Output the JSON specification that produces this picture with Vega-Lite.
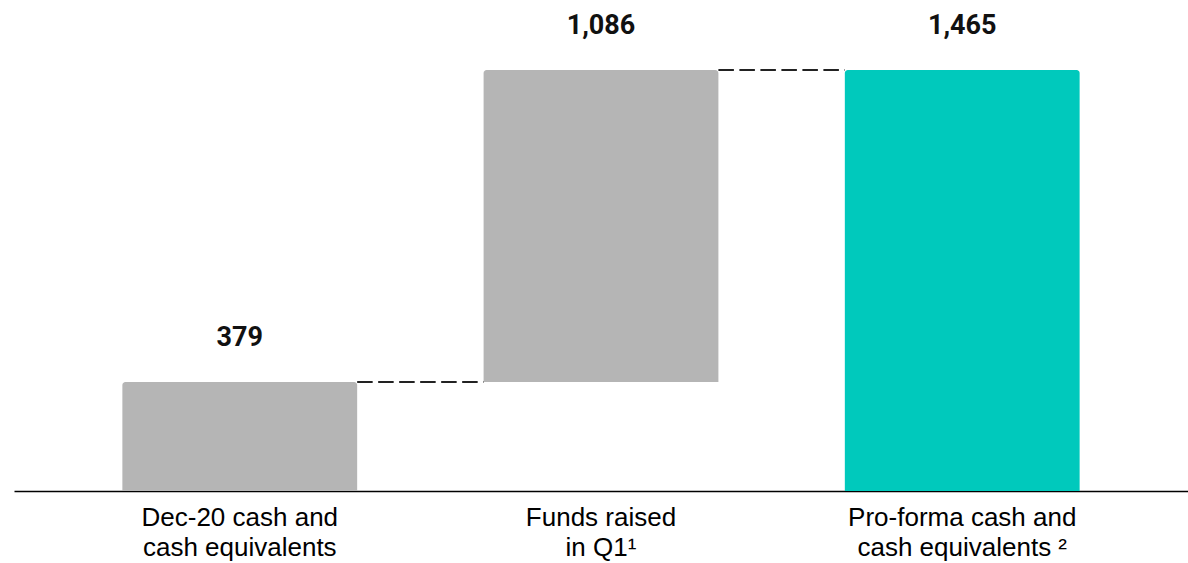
{
  "$schema": "https://vega.github.io/schema/vega-lite/v6.json",
  "width": 1174,
  "height": 491,
  "autosize": "none",
  "padding": {"left": 14, "top": 0, "right": 0, "bottom": 72},
  "background": "white",
  "config": {"view": {"stroke": null}},
  "datasets": {
    "bars": [
      {"cat": "Dec-20 cash and|cash equivalents", "start": 0, "end": 379, "value": 379, "kind": "step"},
      {"cat": "Funds raised|in Q1¹", "start": 379, "end": 1465, "value": 1086, "kind": "step"},
      {"cat": "Pro-forma cash and|cash equivalents ²", "start": 0, "end": 1465, "value": 1465, "kind": "total"}
    ],
    "links": [
      {"from": "Dec-20 cash and|cash equivalents", "to": "Funds raised|in Q1¹", "level": 379},
      {"from": "Funds raised|in Q1¹", "to": "Pro-forma cash and|cash equivalents ²", "level": 1465}
    ]
  },
  "layer": [
    {
      "data": {"name": "bars"},
      "mark": {"type": "bar", "cornerRadiusTopLeft": 3, "cornerRadiusTopRight": 3},
      "encoding": {
        "x": {
          "field": "cat", "type": "nominal", "sort": null,
          "scale": {"paddingInner": 0.35, "paddingOuter": 0.3},
          "axis": {
            "title": null, "domainColor": "#000", "domainWidth": 1.5, "ticks": false,
            "labelFont": "Liberation Sans", "labelFontSize": 26, "labelColor": "#000",
            "labelExpr": "split(datum.label, '|')", "labelLineHeight": 30,
            "labelPadding": 13, "labelAngle": 0, "labelLimit": 400
          }
        },
        "y": {"field": "start", "type": "quantitative", "scale": {"domain": [0, 1708.5], "nice": false, "zero": true}, "axis": null},
        "y2": {"field": "end"},
        "color": {"field": "kind", "type": "nominal", "scale": {"domain": ["step", "total"], "range": ["#b5b5b5", "#00c9bc"]}, "legend": null}
      }
    },
    {
      "data": {"name": "bars"},
      "mark": {"type": "text", "font": "Roboto", "fontWeight": "bold", "fontSize": 27, "baseline": "alphabetic", "dy": -36, "color": "#111"},
      "encoding": {
        "x": {"field": "cat", "type": "nominal", "sort": null},
        "y": {"field": "end", "type": "quantitative"},
        "text": {"field": "value", "type": "quantitative", "format": ","}
      }
    },
    {
      "data": {"name": "links"},
      "mark": {"type": "rule", "strokeDash": [15.5, 5.5], "strokeWidth": 2, "color": "#222"},
      "encoding": {
        "x": {"field": "from", "type": "nominal", "sort": null, "bandPosition": 1},
        "x2": {"field": "to", "bandPosition": 0},
        "y": {"field": "level", "type": "quantitative"}
      }
    }
  ]
}
